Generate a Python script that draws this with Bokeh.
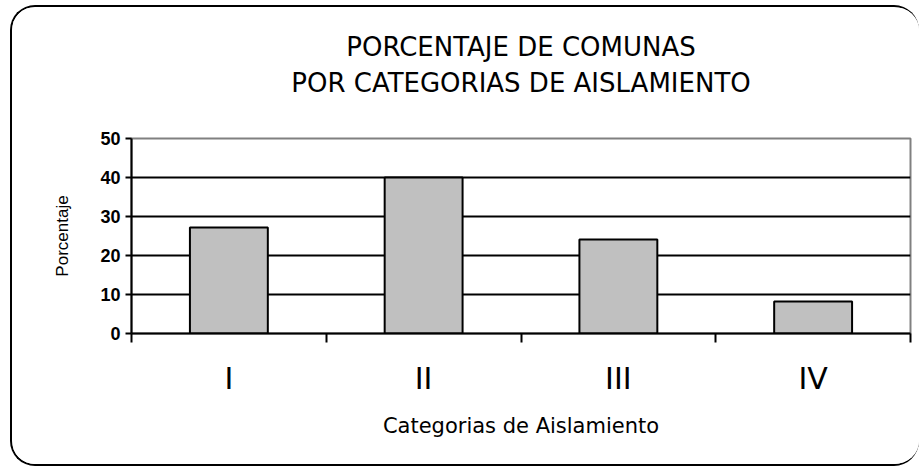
from bokeh.plotting import figure
from bokeh.models import Range1d, FixedTicker, Title, ColumnDataSource
from bokeh.embed import file_html
from bokeh.resources import INLINE

# ---- data ----
categories = ["I", "II", "III", "IV"]
porcentaje = [27.2, 40.0, 24.1, 8.2]
y_ticks = [0, 10, 20, 30, 40, 50]
grid_values = [10, 20, 30, 40]
title_lines = ["PORCENTAJE DE COMUNAS", "POR CATEGORIAS DE AISLAMIENTO"]
x_title = "Categorias de Aislamiento"
y_title = "Porcentaje"

centers = [i + 0.5 for i in range(len(categories))]
boundaries = list(range(len(categories) + 1))

src = ColumnDataSource(dict(x=centers, top=porcentaje, cat=categories))

W, H = 909, 461
p = figure(width=W, height=H, output_backend="svg", toolbar_location=None,
           x_range=Range1d(0, len(categories)), y_range=Range1d(0, 50),
           min_border_left=119, min_border_right=11, min_border_top=131,
           min_border_bottom=135, title=None)
p.styles = {"border": "2px solid black", "border-right": "none",
            "border-radius": "25px", "overflow": "hidden",
            "margin": "5px 0 0 10px"}
p.background_fill_color = "white"
p.border_fill_color = "white"
p.outline_line_color = "#808080"
p.outline_line_width = 2

p.vbar(x="x", top="top", bottom=0, width=0.4, source=src,
       fill_color="#C0C0C0", line_color="black", line_width=2)

# grid
p.xgrid.visible = False
p.ygrid.ticker = FixedTicker(ticks=grid_values)
p.ygrid.grid_line_color = "black"
p.ygrid.grid_line_width = 2
p.ygrid.level = "underlay"

# y axis
ya = p.yaxis[0]
ya.ticker = FixedTicker(ticks=y_ticks)
ya.axis_line_color = "black"
ya.axis_line_width = 2
ya.major_tick_line_color = "black"
ya.major_tick_line_width = 2
ya.major_tick_out = 6
ya.major_tick_in = 0
ya.minor_tick_line_color = None
ya.major_label_text_font = "Liberation Sans"
ya.major_label_text_font_style = "bold"
ya.major_label_text_font_size = "18px"
ya.major_label_text_color = "black"
ya.major_label_standoff = 5
ya.axis_label = y_title
ya.axis_label_text_font = "Liberation Sans"
ya.axis_label_text_font_style = "normal"
ya.axis_label_text_font_size = "17px"
ya.axis_label_text_color = "black"
ya.axis_label_standoff = 25

# x axis
xa = p.xaxis[0]
xa.ticker = FixedTicker(ticks=centers, minor_ticks=boundaries)
xa.major_label_overrides = {c: cat for c, cat in zip(centers, categories)}
xa.axis_line_color = "black"
xa.axis_line_width = 2
xa.major_tick_line_color = None
xa.major_tick_out = 0
xa.major_tick_in = 0
xa.minor_tick_line_color = "black"
xa.minor_tick_line_width = 2
xa.minor_tick_out = 9
xa.minor_tick_in = 0
xa.major_label_text_font = "DejaVu Sans"
xa.major_label_text_font_size = "30px"
xa.major_label_text_color = "black"
xa.major_label_standoff = 18
xa.axis_label = x_title
xa.axis_label_text_font = "DejaVu Sans"
xa.axis_label_text_font_style = "normal"
xa.axis_label_text_font_size = "21px"
xa.axis_label_text_color = "black"
xa.axis_label_standoff = 15

# title: spacer nearest the frame, then the two centred lines (lower first)
p.add_layout(Title(text=" ", text_font_size="1px", standoff=37), "above")
for line, standoff in zip(reversed(title_lines), [2, 6]):
    p.add_layout(Title(text=line, align="center",
                       text_font="DejaVu Sans", text_font_size="26px",
                       text_font_style="normal", text_color="black",
                       standoff=standoff), "above")

open("out.html", "w").write(file_html(p, INLINE))
